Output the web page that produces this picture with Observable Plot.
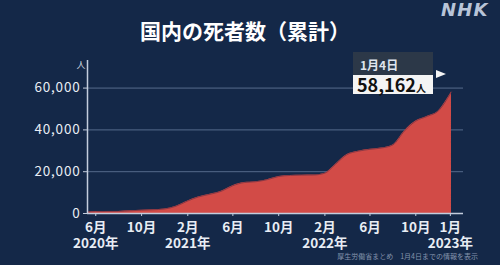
<!DOCTYPE html>
<html>
<head>
<meta charset="utf-8">
<script src="https://cdn.jsdelivr.net/npm/d3@7"></script>
<script src="https://cdn.jsdelivr.net/npm/@observablehq/plot@0.6"></script>
<style>
  html, body { margin: 0; padding: 0; background: #142848; }
  #wrap { position: relative; width: 500px; height: 265px; overflow: hidden; background: #142848; font-family: "Noto Sans CJK JP", "Noto Sans", sans-serif; }
  #wrap svg { position: absolute; left: 0; top: 0; }
  .title { position: absolute; left: 0; width: 490px; top: 16px; text-align: center; color: #ffffff; font-size: 21px; font-weight: bold; line-height: 28px; }
  .logo { position: absolute; left: 441px; top: -1px; color: #b8c4d8; font-family: "DejaVu Sans", sans-serif; font-weight: bold; font-style: italic; font-size: 18px; letter-spacing: 1.2px; white-space: nowrap; }
  .caption { position: absolute; right: 22px; top: 251px; color: #8494ad; font-size: 7px; white-space: nowrap; }
  .ann-date { position: absolute; background: #2c3848; color: #dfe5ee; font-size: 12px; font-weight: bold; padding-left: 7px; box-sizing: border-box; line-height: 25px; }
  .ann-val { position: absolute; background: #f4f4f4; color: #111; font-weight: bold; font-size: 18px; line-height: 19px; padding-left: 4px; box-sizing: border-box; white-space: nowrap; }
  .ann-val small { font-size: 10px; font-weight: bold; }
  .tri { position: absolute; width: 0; height: 0; border-top: 4px solid transparent; border-bottom: 4px solid transparent; border-left: 10px solid #f4f4f4; }
  g[aria-label="y-axis tick label"] text { letter-spacing: 0.8px; }
</style>
</head>
<body>
<div id="wrap">
  <div class="title">国内の死者数（累計）</div>
  <div class="logo">NHK</div>
  <div class="caption">厚生労働省まとめ　1月4日までの情報を表示</div>
</div>
<script>
// Cumulative COVID-19 deaths in Japan
const dates = [
  "2020-05-10","2020-06-01","2020-07-01","2020-08-01","2020-09-01","2020-10-01","2020-11-01","2020-12-01",
  "2021-01-01","2021-02-01","2021-03-01","2021-04-01","2021-05-01","2021-06-01","2021-07-01","2021-08-01",
  "2021-09-01","2021-10-01","2021-11-01","2021-12-01","2022-01-01","2022-02-01","2022-03-01","2022-04-01",
  "2022-05-01","2022-06-01","2022-07-01","2022-08-01","2022-09-01","2022-10-01","2022-11-01","2022-12-01",
  "2023-01-01","2023-01-04"
];
const deaths = [
  620, 900, 980, 1010, 1300, 1570, 1800, 2150,
  3500, 6000, 7900, 9200, 10600, 13300, 14800, 15200,
  16200, 17700, 18200, 18350, 18400, 19300, 23500, 28200,
  29800, 30700, 31300, 32800, 39500, 44200, 46500, 49200,
  57300, 58162
];
const xDomain = ["2020-05-10", "2023-02-05"];
const yDomain = [0, 73200];
const yTicks = [0, 20000, 40000, 60000];
const yUnit = "人";
const tickDates = ["2020-06-01","2020-10-01","2021-02-01","2021-06-01","2021-10-01","2022-02-01","2022-06-01","2022-10-01","2023-01-01"];
const monthLabels = ["6月","10月","2月","6月","10月","2月","6月","10月","1月"];
const yearTickDates = ["2020-06-01","2021-02-01","2022-02-01","2023-01-01"];
const yearLabels = ["2020年","2021年","2022年","2023年"];
const annDate = "1月4日";
const annUnit = "人";

const data = dates.map((d, i) => ({date: new Date(d), deaths: deaths[i]}));
const ticks = tickDates.map(d => new Date(d));
const yearTicks = yearTickDates.map(d => new Date(d));
const monthMap = new Map(ticks.map((d, i) => [+d, monthLabels[i]]));
const yearMap = new Map(yearTicks.map((d, i) => [+d, yearLabels[i]]));

const axisColor = "#c3cddd";
const labelColor = "#e8edf4";
const chart = Plot.plot({
  width: 500,
  height: 265,
  marginTop: 60,
  marginLeft: 87,
  marginRight: 37,
  marginBottom: 52,
  style: {background: "transparent", color: labelColor, fontFamily: "'Noto Sans CJK JP', sans-serif"},
  x: {type: "utc", domain: xDomain.map(d => new Date(d))},
  y: {domain: yDomain},
  marks: [
    Plot.gridY(yTicks.slice(1), {stroke: "#566b8c", strokeOpacity: 1, strokeWidth: 1}),
    Plot.areaY(data, {x: "date", y: "deaths", fill: "#d24b47", curve: "monotone-x"}),
    Plot.lineY(data, {x: "date", y: "deaths", stroke: "#7a3442", strokeWidth: 0.8, curve: "monotone-x"}),
    Plot.ruleY([0], {stroke: axisColor, strokeWidth: 1.5}),
    Plot.ruleX([new Date(xDomain[0])], {stroke: axisColor, strokeWidth: 1.5}),
    Plot.axisY({ticks: yTicks, tickFormat: d => d.toLocaleString("en-US"), tickSize: 4, tickPadding: 3,
      fontSize: 13.5, label: null, stroke: axisColor, fill: labelColor}),
    Plot.text([yUnit], {frameAnchor: "top-left", dx: -11, dy: 1, fontSize: 9, fill: "#c8d0dc"}),
    Plot.axisX({ticks: ticks, tickFormat: d => monthMap.get(+d), tickSize: 3, tickPadding: 6,
      fontSize: 13.5, fontWeight: "bold", label: null, stroke: axisColor, fill: labelColor, lineAnchor: "top"}),
    Plot.axisX({ticks: yearTicks, tickFormat: d => yearMap.get(+d), tickSize: 0, tickPadding: 25,
      fontSize: 13.5, fontWeight: "bold", label: null, fill: labelColor, lineAnchor: "top"})
  ]
});
const wrap = document.getElementById("wrap");
wrap.insertBefore(chart, wrap.firstChild);

// Annotation for the latest value, positioned with the chart's scales
const last = data[data.length - 1];
const px = chart.scale("x").apply(last.date);
const py = chart.scale("y").apply(last.deaths);
const boxRight = px - 18, boxW = 80;
const dBox = document.createElement("div");
dBox.className = "ann-date";
dBox.textContent = annDate;
Object.assign(dBox.style, {left: (boxRight - boxW) + "px", top: (py - 39) + "px", width: boxW + "px", height: "23px"});
wrap.appendChild(dBox);
const vBox = document.createElement("div");
vBox.className = "ann-val";
vBox.innerHTML = d3.format(",")(last.deaths) + "<small>" + annUnit + "</small>";
Object.assign(vBox.style, {left: (boxRight - boxW) + "px", top: (py - 16) + "px", width: boxW + "px", height: "19px"});
wrap.appendChild(vBox);
const tri = document.createElement("div");
tri.className = "tri";
Object.assign(tri.style, {left: (px - 15) + "px", top: (py - 21) + "px"});
wrap.appendChild(tri);
</script>
</body>
</html>
